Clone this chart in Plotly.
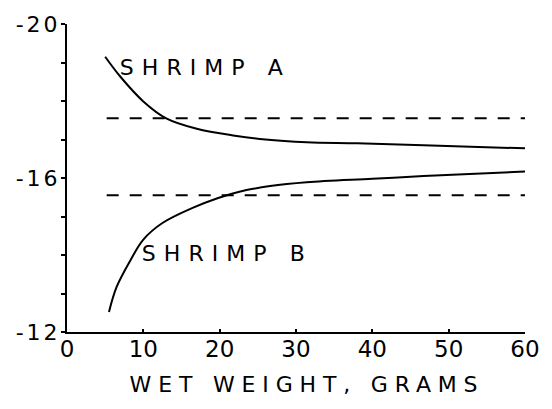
import plotly.graph_objects as go

# Shrimp A: values fall towards the reference level as wet weight increases
weight_a = [5, 7, 10, 13, 17, 22, 26, 31.4, 38, 46.7, 60]
delta_a = [-19.15, -18.63, -17.99, -17.55, -17.28, -17.10, -17.00, -16.93, -16.90, -16.85, -16.77]

# Shrimp B: values rise towards the same level from below
weight_b = [5.5, 6.5, 8.3, 10, 12.5, 16.3, 19.8, 22.7, 26.6, 31.4, 40, 46.7, 60]
delta_b = [-12.52, -13.17, -13.86, -14.40, -14.83, -15.21, -15.48, -15.65, -15.79, -15.89, -15.98, -16.05, -16.17]

# Horizontal dashed reference levels
ref_x = [5.2, 60]
ref_levels = [-17.55, -15.55]

x_tickvals = [0, 10, 20, 30, 40, 50, 60]
y_tickvals = [-20, -16, -12]
y_ticktext = ["-20", "-16", "-12"]

FONT = "DejaVu Sans"
INK = "black"

fig = go.Figure()

for level in ref_levels:
    fig.add_trace(go.Scatter(
        x=ref_x, y=[level, level], mode="lines",
        line=dict(color=INK, width=2, dash="12px,11px"),
        hoverinfo="skip", showlegend=False,
    ))

for wx, wy in ((weight_a, delta_a), (weight_b, delta_b)):
    fig.add_trace(go.Scatter(
        x=wx, y=wy, mode="lines",
        line=dict(color=INK, width=2, shape="spline", smoothing=1.0),
        showlegend=False,
    ))

fig.add_annotation(x=18.1, y=-18.86, text="SHRIMP A", showarrow=False,
                   font=dict(family=FONT, size=22, color=INK))
fig.add_annotation(x=21.0, y=-14.04, text="SHRIMP B", showarrow=False,
                   font=dict(family=FONT, size=22, color=INK))

fig.update_layout(
    width=552, height=409,
    margin=dict(l=67, r=15, t=22, b=77),
    paper_bgcolor="white", plot_bgcolor="white",
    font=dict(family=FONT, color=INK),
)

fig.update_xaxes(
    range=[0, 60], tickvals=x_tickvals,
    showline=True, linecolor=INK, linewidth=2, showgrid=False, zeroline=False,
    ticks="inside", ticklen=3, tickwidth=2, tickcolor=INK,
    tickfont=dict(family=FONT, size=23, color=INK), ticklabelstandoff=-5,
    ticklabeloverflow="allow",
    title=dict(text="WET WEIGHT, GRAMS", font=dict(family=FONT, size=22, color=INK), standoff=16),
)

fig.update_yaxes(
    range=[-12, -20], tickvals=y_tickvals, ticktext=y_ticktext,
    showline=True, linecolor=INK, linewidth=2, showgrid=False, zeroline=False,
    ticks="outside", ticklen=4, tickwidth=2, tickcolor=INK,
    tickfont=dict(family=FONT, size=22, color=INK),
    minor=dict(dtick=1, ticks="outside", ticklen=4, tickwidth=2, tickcolor=INK),
)

# Wide lettering for the axis title, curve labels and y tick labels
spacing_js = """
var gd = document.getElementById('{plot_id}');
function spread(sel, target, shift) {
  gd.querySelectorAll(sel).forEach(function (t) {
    var n = t.textContent.length;
    var w = t.getComputedTextLength();
    if (n > 1 && target > w) {
      t.setAttribute('letter-spacing', ((target - w) / (n - 1)).toFixed(2) + 'px');
    }
    if (shift) { t.setAttribute('dx', shift); }
  });
}
spread('text.xtitle', 348, 11);
spread('.annotation-text-g text', 163, 0);
gd.querySelectorAll('.ytick text').forEach(function (t) {
  t.setAttribute('letter-spacing', '3px');
  t.setAttribute('dx', '4');
});
"""

fig.write_html("out.html", post_script=spacing_js)
